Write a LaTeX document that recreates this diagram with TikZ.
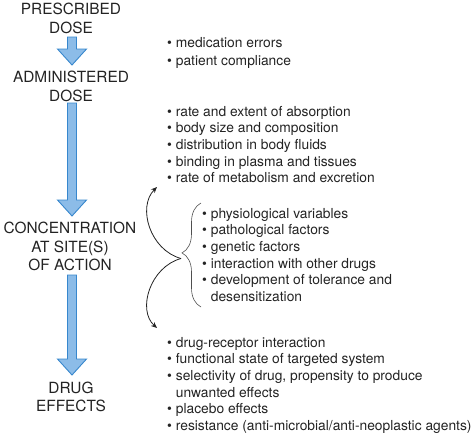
\documentclass[tikz,border=0pt]{standalone}
\usepackage{fontspec}
\setmainfont{TeX Gyre Heros}
\usetikzlibrary{calc,arrows.meta,decorations.pathreplacing}
\definecolor{txt}{RGB}{35,35,35}
\definecolor{arrfill}{RGB}{140,188,232}
\definecolor{arrline}{RGB}{55,135,205}
\newcommand\fatarr[2]{%
  \path let \p1=(#1), \p2=(#2) in
  [fill=arrfill, draw=arrline, line width=0.9pt, line join=miter]
  (\x1-4.5pt,\y1) -- (\x1+4.5pt,\y1) -- (\x1+4.5pt,\y2+16pt) -- (\x1+14.5pt,\y2+16pt)
  -- (\x1,\y2) -- (\x1-14.5pt,\y2+16pt) -- (\x1-4.5pt,\y2+16pt) -- cycle;}
\newcommand\bl{\textbullet\ }
\newcommand\ind{\phantom{\textbullet\ }}
\begin{document}
\begin{tikzpicture}[x=1pt,y=-1pt,
  caps/.style={font=\fontsize{15.4}{19}\selectfont, text=txt, align=center, inner sep=0pt, anchor=north},
  blist/.style={font=\fontsize{13.8}{16.6}\selectfont, text=txt, align=left, inner sep=0pt, anchor=north west},
  curv/.style={draw=txt, line width=0.8pt, -{Stealth[length=6pt,width=5pt]}}]
\useasboundingbox (0,0) rectangle (474,434);
% left column
\node[caps] (pd) at (71,2.5) {PRESCRIBED\\DOSE};
\node[caps] (ad) at (71,71) {ADMINISTERED\\DOSE};
\node[caps, font=\fontsize{15.4}{18.4}\selectfont] (cs) at (70,222) {CONCENTRATION\\AT SITE(S)\\OF ACTION};
\node[caps, font=\fontsize{15.4}{17.5}\selectfont] (de) at (71,382) {DRUG\\EFFECTS};
% arrow endpoints
\coordinate (a1s) at (72,37);  \coordinate (a1e) at (72,65);
\coordinate (a2s) at (72,103); \coordinate (a2e) at (72,216);
\coordinate (a3s) at (72,275); \coordinate (a3e) at (72,375);
\fatarr{a1s}{a1e}
\fatarr{a2s}{a2e}
\fatarr{a3s}{a3e}
% right lists
\node[blist, font=\fontsize{13.8}{18.7}\selectfont] (g1) at (167,37) {\bl medication errors\\\bl patient compliance};
\node[blist] (g2) at (167,106) {\bl rate and extent of absorption\\\bl body size and composition\\\bl distribution in body fluids\\\bl binding in plasma and tissues\\\bl rate of metabolism and excretion};
\node[blist] (g3) at (202,208) {\bl physiological variables\\\bl pathological factors\\\bl genetic factors\\\bl interaction with other drugs\\\bl development of tolerance and\\\ind desensitization};
\node[blist] (g4) at (167,337) {\bl drug-receptor interaction\\\bl functional state of targeted system\\\bl selectivity of drug, propensity to produce\\\ind unwanted effects\\\bl placebo effects\\\bl resistance (anti-microbial/anti-neoplastic agents)};
% brace
\draw[draw=txt!80, line width=0.6pt, decorate, decoration={brace, amplitude=19pt, aspect=0.52}]
  (201,307) -- (201,203) coordinate (bt);
\coordinate (tip) at (181,258.5);
\coordinate (up) at (157,187);
\coordinate (dn) at (157,328);
\draw[curv] (tip) .. controls (150,250) and (137,207) .. (up);
\draw[curv] (tip) .. controls (150,267) and (137,310) .. (dn);
\end{tikzpicture}
\end{document}
